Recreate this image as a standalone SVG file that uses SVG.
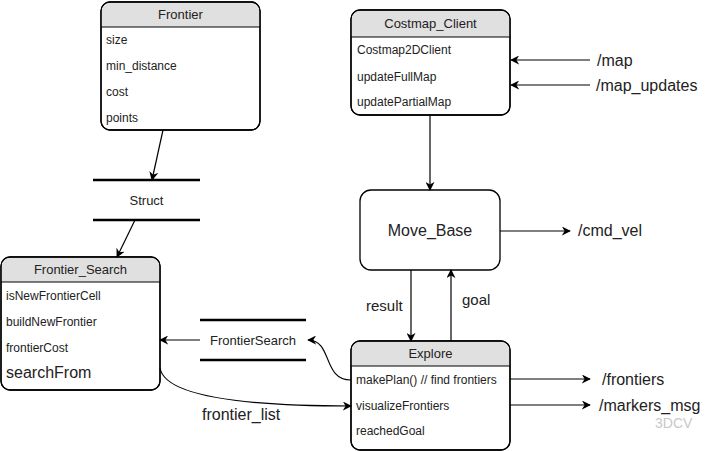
<svg xmlns="http://www.w3.org/2000/svg" width="719" height="451" viewBox="0 0 719 451">
<style>
.box{fill:#fff;stroke:#000;stroke-width:1.3}
.hdr{fill:#e0e0e0}
.ln{stroke:#000;stroke-width:1.2;fill:none}
.bar{stroke:#000;stroke-width:2.5}
.t{font-family:"Liberation Sans",Arial,sans-serif;fill:#222}
.r{font-size:12px}
.h{font-size:13px;text-anchor:middle}
.l{font-size:16px}
.c{stroke:#000;stroke-width:1.2;fill:none;marker-end:url(#ah)}
</style>
<defs>
<marker id="ah" viewBox="0 0 10 10" refX="9" refY="5" markerWidth="9" markerHeight="9" markerUnits="userSpaceOnUse" orient="auto">
<path d="M0,0 L10,5 L0,10 L3,5 z" fill="#000"/>
</marker>
</defs>
<rect width="719" height="451" fill="#fff"/>

<g id="frontier">
<rect class="box" x="101" y="2" width="159" height="128" rx="9"/>
<path class="hdr" d="M110,2.7 H251 A8.3,8.3 0 0 1 259.3,11 V27 H101.7 V11 A8.3,8.3 0 0 1 110,2.7 z"/>
<rect x="101" y="2" width="159" height="128" rx="9" fill="none" stroke="#000" stroke-width="1.3"/>
<line class="ln" x1="101" y1="27" x2="260" y2="27"/>
<text class="t h" x="180.5" y="19">Frontier</text>
<text class="t r" x="106" y="44">size</text>
<text class="t r" x="106" y="70">min_distance</text>
<text class="t r" x="106" y="96">cost</text>
<text class="t r" x="106" y="122">points</text>
</g>

<g id="struct">
<line class="bar" x1="93" y1="180" x2="200" y2="180"/>
<line class="bar" x1="93" y1="220" x2="200" y2="220"/>
<text class="t h" x="146.5" y="204.5">Struct</text>
</g>

<g id="frontier_search">
<rect class="box" x="1" y="257" width="159" height="133" rx="9"/>
<path class="hdr" d="M10,257.7 H151 A8.3,8.3 0 0 1 159.3,266 V282 H1.7 V266 A8.3,8.3 0 0 1 10,257.7 z"/>
<rect x="1" y="257" width="159" height="133" rx="9" fill="none" stroke="#000" stroke-width="1.3"/>
<line class="ln" x1="1" y1="282" x2="160" y2="282"/>
<text class="t h" x="80.5" y="274">Frontier_Search</text>
<text class="t r" x="6" y="300">isNewFrontierCell</text>
<text class="t r" x="6" y="326">buildNewFrontier</text>
<text class="t r" x="6" y="352">frontierCost</text>
<text class="t l" x="6" y="378">searchFrom</text>
</g>

<g id="frontiersearch_struct">
<line class="bar" x1="200" y1="320" x2="306" y2="320"/>
<line class="bar" x1="200" y1="360" x2="306" y2="360"/>
<text class="t h" x="253" y="344.5">FrontierSearch</text>
</g>

<g id="costmap_client">
<rect class="box" x="351" y="10" width="159" height="105" rx="9"/>
<path class="hdr" d="M360,10.7 H501 A8.3,8.3 0 0 1 509.3,19 V37 H351.7 V19 A8.3,8.3 0 0 1 360,10.7 z"/>
<rect x="351" y="10" width="159" height="105" rx="9" fill="none" stroke="#000" stroke-width="1.3"/>
<line class="ln" x1="351" y1="37" x2="510" y2="37"/>
<text class="t h" x="430.5" y="28">Costmap_Client</text>
<text class="t r" x="357" y="54">Costmap2DClient</text>
<text class="t r" x="357" y="81">updateFullMap</text>
<text class="t r" x="357" y="106">updatePartialMap</text>
</g>

<g id="move_base">
<rect class="box" x="360" y="190" width="140" height="80" rx="11"/>
<text class="t l" x="430" y="236" text-anchor="middle">Move_Base</text>
</g>

<g id="explore">
<rect class="box" x="351" y="341" width="159" height="109" rx="9"/>
<path class="hdr" d="M360,341.7 H501 A8.3,8.3 0 0 1 509.3,350 V366 H351.7 V350 A8.3,8.3 0 0 1 360,341.7 z"/>
<rect x="351" y="341" width="159" height="109" rx="9" fill="none" stroke="#000" stroke-width="1.3"/>
<line class="ln" x1="351" y1="366" x2="510" y2="366"/>
<text class="t h" x="430.5" y="358">Explore</text>
<text class="t r" x="356" y="384">makePlan() // find frontiers</text>
<text class="t r" x="356" y="410">visualizeFrontiers</text>
<text class="t r" x="356" y="435">reachedGoal</text>
</g>

<g id="connectors">
<line class="c" x1="163" y1="130" x2="152" y2="180"/>
<line class="c" x1="135" y1="220" x2="117" y2="257"/>
<line class="c" x1="590" y1="60" x2="511" y2="60"/>
<line class="c" x1="590" y1="85" x2="511" y2="85"/>
<line class="c" x1="430" y1="115" x2="430" y2="190"/>
<line class="c" x1="500" y1="231" x2="570" y2="231"/>
<line class="c" x1="411" y1="270" x2="411" y2="341"/>
<line class="c" x1="451" y1="341" x2="451" y2="270"/>
<line class="c" x1="200" y1="340" x2="160" y2="340"/>
<path class="c" d="M351,380 C322,380 333,340 308,340"/>
<path class="c" d="M160,368 C165,398 250,406 351,406"/>
<line class="c" x1="510" y1="379" x2="590" y2="379"/>
<line class="c" x1="510" y1="405" x2="590" y2="405"/>
</g>

<g id="labels">
<text class="t l" x="597" y="66">/map</text>
<text class="t l" x="596" y="91">/map_updates</text>
<text class="t l" x="578" y="236">/cmd_vel</text>
<text class="t l" x="602" y="385">/frontiers</text>
<text class="t l" x="599" y="411">/markers_msg</text>
<text class="t l" x="202" y="420">frontier_list</text>
<text class="t" x="366" y="311" font-size="15">result</text>
<text class="t" x="462" y="305" font-size="15">goal</text>
</g>

<g id="watermark">
<text x="655" y="428" font-family="Liberation Sans,Arial,sans-serif" font-size="14" fill="#c8c8c8">3DCV</text>
</g>
</svg>
